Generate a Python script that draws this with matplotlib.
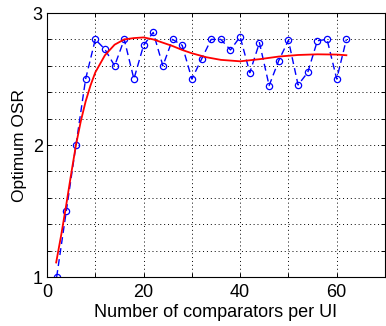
import matplotlib
matplotlib.use('Agg')
import matplotlib.pyplot as plt
import numpy as np

# Optimum OSR para cada número de comparadores (datos simulados)
comparadores = [2, 4, 6, 8, 10, 12, 14, 16, 18, 20, 22, 24, 26, 28, 30, 32,
                34, 36, 38, 40, 42, 44, 46, 48, 50, 52, 54, 56, 58, 60, 62]
osr_optimo = [1.0, 1.5, 2.0, 2.5, 2.8, 2.725, 2.6, 2.8, 2.5, 2.755, 2.853,
              2.6, 2.8, 2.755, 2.5, 2.65, 2.8, 2.8, 2.72, 2.82, 2.548, 2.775,
              2.45, 2.64, 2.793, 2.455, 2.55, 2.79, 2.8, 2.5, 2.8]

# Curva de ajuste (roja)
ajuste_x = [1.9, 3, 4, 5, 6, 7, 8, 9, 10, 12, 14, 16, 18, 20, 22, 24, 26,
            28, 30, 33, 36, 40, 44, 48, 52, 56, 60, 62]
ajuste_y = [1.11, 1.33, 1.55, 1.78, 2.0, 2.18, 2.33, 2.45, 2.55, 2.68, 2.76,
            2.80, 2.81, 2.815, 2.80, 2.775, 2.75, 2.72, 2.695, 2.665, 2.645,
            2.634, 2.65, 2.67, 2.682, 2.687, 2.685, 2.68]

plt.rcParams['font.family'] = ['Liberation Sans', 'DejaVu Sans']

fig = plt.figure(figsize=(3.86, 3.26), dpi=100)
ax = fig.add_axes([47 / 386, 1 - 277 / 326, 338 / 386, 264 / 326])

ax.plot(comparadores, osr_optimo, color='#0000ff', linestyle='--', linewidth=1.0,
        marker='o', markersize=4.5, markerfacecolor='none', markeredgewidth=0.9,
        dashes=(5, 3))
ax.plot(ajuste_x, ajuste_y, color='#ff0000', linewidth=1.3)

ax.set_xlim(0, 70)
ax.set_ylim(1, 3)
xt = np.arange(0, 71, 10)
ax.set_xticks(xt)
ax.set_xticklabels([str(v) if v % 20 == 0 else '' for v in xt])
yt = np.linspace(1, 3, 11)
ax.set_yticks(yt)
ax.set_yticklabels(['1' if i == 0 else '2' if i == 5 else '3' if i == 10 else ''
                    for i in range(11)])

ax.tick_params(direction='in', top=True, right=True, length=3, width=0.7,
               labelsize=13)
ax.tick_params(axis='x', pad=5)
ax.tick_params(axis='y', pad=3)
ax.grid(True, linestyle=(0, (1, 3)), color='black', linewidth=0.7)
for s in ax.spines.values():
    s.set_linewidth(0.8)

ax.set_xlabel('Number of comparators per UI', fontsize=13, labelpad=2)
ax.set_ylabel('Optimum OSR', fontsize=12.5, labelpad=4)

fig.savefig('out.png', dpi=100)
